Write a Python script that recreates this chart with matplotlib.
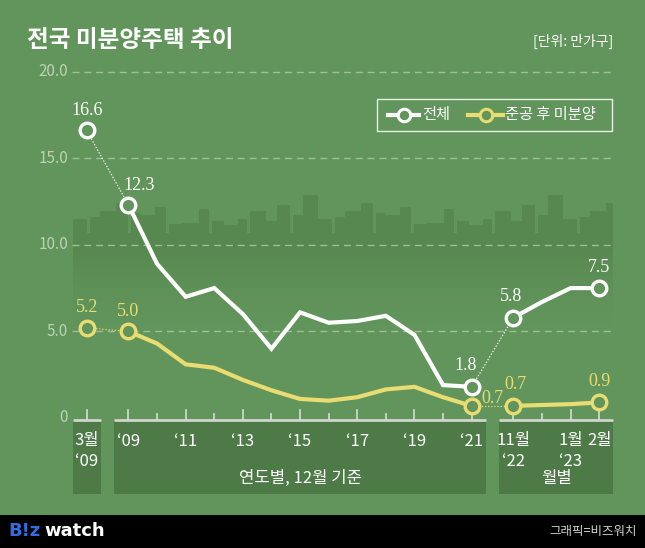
import matplotlib
matplotlib.use('Agg')
import matplotlib.pyplot as plt
import matplotlib.transforms as mtransforms
from matplotlib.patches import Rectangle
import numpy as np

plt.rcParams['font.family'] = ['Noto Sans CJK KR', 'DejaVu Sans']

# ---------------- data ----------------
first_labels = ['3월\n‘09']
total_first = [16.6]
completed_first = [5.2]

annual_labels = ['‘09', '', '‘11', '', '‘13', '', '‘15', '', '‘17', '', '‘19', '', '‘21']
total_annual = [12.3, 8.9, 7.0, 7.5, 6.0, 4.0, 6.1, 5.5, 5.6, 5.9, 4.8, 1.9, 1.8]
completed_annual = [5.0, 4.3, 3.1, 2.9, 2.2, 1.6, 1.1, 1.0, 1.2, 1.65, 1.8, 1.2, 0.7]

monthly_labels = ['11월\n‘22', '', '1월\n‘23', '2월']
total_monthly = [5.8, 6.7, 7.5, 7.5]
completed_monthly = [0.7, 0.75, 0.8, 0.9]

group_labels = ['', '연도별, 12월 기준', '월별']
yticks = [0, 5, 10, 15, 20]
ytick_labels = ['0', '5.0', '10.0', '15.0', '20.0']
series_names = ['전체', '준공 후 미분양']

# ---------------- style ----------------
BG = '#62955b'
BOX = '#4e7a48'
SKY = '#56884f'
WHITE = '#ffffff'
YELLOW = '#e8dc72'
GRID = '#9fc097'
TICKC = '#bcd3b4'
W, H = 645, 548

fig = plt.figure(figsize=(W / 100, H / 100), dpi=100, facecolor=BG)
ax = fig.add_axes([0, 0, 1, 1])
ax.set_facecolor(BG)
ax.axis('off')

# pixel mapping for the data axes
X0PX, UNIT = 86.7, 28.6
Y0PX, YUNIT = 418.0, 17.32
ax.set_xlim(-X0PX / UNIT, (W - X0PX) / UNIT)
ax.set_ylim(-(H - Y0PX) / YUNIT, Y0PX / YUNIT)

GAP = 1.46
pos_first = np.arange(len(total_first), dtype=float)
pos_annual = pos_first[-1] + GAP + np.arange(len(total_annual))
pos_monthly = pos_annual[-1] + GAP + np.arange(len(total_monthly))

# pixel transform (origin top-left)
pix = mtransforms.Affine2D().scale(1 / W, -1 / H).translate(0, 1) + fig.transFigure
xdata_ypix = mtransforms.blended_transform_factory(ax.transData, pix)
xpix_ydata = mtransforms.blended_transform_factory(pix, ax.transData)
xfig_ydata = mtransforms.blended_transform_factory(fig.transFigure, ax.transData)

# ---------------- skyline decoration ----------------
bw = [14, 10, 16, 12, 9, 15, 11, 13, 17, 10, 12, 14, 9, 16, 11, 13, 10, 15]
bh = [14, 22, 10, 30, 18, 8, 26, 16, 12, 24, 20, 38, 14, 9, 22, 28, 12, 18]
x = 73
i = 0
while x < 613:
    w = bw[i % len(bw)]
    h = bh[(i * 7) % len(bh)]
    w = min(w, 613 - x)
    ax.add_patch(Rectangle((x, 233 - h), w, h, transform=pix, color=SKY, lw=0, zorder=0.5))
    x += w + (3 if i % 3 == 0 else 0)
    i += 1
ax.add_patch(Rectangle((73, 233), 540, 13, transform=pix, color=SKY, lw=0, zorder=0.5))
n = 40
for k in range(n):
    y = 246 + k * 2
    ax.add_patch(Rectangle((73, y), 540, 2.2, transform=pix, color=SKY,
                           alpha=(1 - k / n) ** 1.5, lw=0, zorder=0.5))

# ---------------- grid & y tick labels ----------------
for v, lab in zip(yticks, ytick_labels):
    if v > 0:
        ax.plot([72 / W, 612 / W], [v, v], transform=xfig_ydata,
                color=GRID, lw=1, dashes=(5, 3.5), zorder=1)
    ax.text(68, v, lab, transform=xpix_ydata, ha='right', va='center',
            fontsize=11, color=TICKC, zorder=3)

# ---------------- category boxes & axis ----------------
groups = [(pos_first, first_labels), (pos_annual, annual_labels), (pos_monthly, monthly_labels)]
for gi, (pos, labs) in enumerate(groups):
    left, right = pos[0] - 0.49, pos[-1] + 0.49
    ax.add_patch(Rectangle((left, 421), right - left, 73, transform=xdata_ypix,
                           color=BOX, lw=0, zorder=1))
    ax.plot([left, right], [419.5, 419.5], transform=xdata_ypix, color='#cfd6cb', lw=2,
            solid_capstyle='butt', zorder=2)
    for p, lab in zip(pos, labs):
        tl = 9 if lab else 5
        ax.plot([p, p], [419, 419 - tl], transform=xdata_ypix, color='#d8ddd5', lw=1.2, zorder=2)
        if lab:
            parts = lab.split('\n')
            for r, t in enumerate(parts):
                ax.text(p, 441 + r * 21, t, transform=xdata_ypix, ha='center', va='center',
                        fontsize=12, fontweight='medium', color=WHITE, zorder=3)
    if group_labels[gi]:
        ax.text((pos[0] + pos[-1]) / 2, 478, group_labels[gi], transform=xdata_ypix,
                ha='center', va='center', fontsize=12, fontweight='medium', color=WHITE, zorder=3)

# ---------------- series ----------------
LW = 3.0
MS = 10.5
MEW = 2.4


def draw_series(vf, va, vm, color):
    ax.plot(pos_annual, va, color=color, lw=LW, solid_joinstyle='miter', zorder=4)
    ax.plot(pos_monthly, vm, color=color, lw=LW, solid_joinstyle='miter', zorder=4)
    ax.plot([pos_first[-1], pos_annual[0]], [vf[-1], va[0]], color=color, lw=0.9,
            ls=(0, (1, 1.5)), zorder=3)
    ax.plot([pos_annual[-1], pos_monthly[0]], [va[-1], vm[0]], color=color, lw=0.9,
            ls=(0, (1, 1.5)), zorder=3)
    mx = [pos_first[0], pos_annual[0], pos_annual[-1], pos_monthly[0], pos_monthly[-1]]
    my = [vf[0], va[0], va[-1], vm[0], vm[-1]]
    ax.plot(mx, my, ls='none', marker='o', ms=MS, mfc=BG, mec=color, mew=MEW, zorder=5)


draw_series(total_first, total_annual, total_monthly, WHITE)
draw_series(completed_first, completed_annual, completed_monthly, YELLOW)

SERIF = 'Liberation Serif'
off = mtransforms.offset_copy


def label(px, v, text, color, dx, dy, ha='center'):
    ax.text(px, v, text, color=color, fontsize=13, family=SERIF, ha=ha, va='center',
            transform=off(ax.transData, fig=fig, x=dx, y=dy, units='dots'), zorder=6)


label(pos_first[0], total_first[0], f'{total_first[0]:.1f}', WHITE, 0, 20)
label(pos_annual[0], total_annual[0], f'{total_annual[0]:.1f}', WHITE, 11, 19)
label(pos_annual[-1], total_annual[-1], f'{total_annual[-1]:.1f}', WHITE, -6, 21)
label(pos_monthly[0], total_monthly[0], f'{total_monthly[0]:.1f}', WHITE, -2, 21)
label(pos_monthly[-1], total_monthly[-1], f'{total_monthly[-1]:.1f}', WHITE, 0, 21)
label(pos_first[0], completed_first[0], f'{completed_first[0]:.1f}', YELLOW, 0, 20)
label(pos_annual[0], completed_annual[0], f'{completed_annual[0]:.1f}', YELLOW, 0, 20)
label(pos_annual[-1], completed_annual[-1], f'{completed_annual[-1]:.1f}', YELLOW, 10, 7, ha='left')
label(pos_monthly[0], completed_monthly[0], f'{completed_monthly[0]:.1f}', YELLOW, 2, 21)
label(pos_monthly[-1], completed_monthly[-1], f'{completed_monthly[-1]:.1f}', YELLOW, 0, 21)

# ---------------- legend ----------------
ax.add_patch(Rectangle((377, 98.5), 235, 32, transform=pix, fill=False, ec='#e8efe6', lw=1, zorder=6))
for (x1, x2, tx), name, color in zip([(388, 419, 422), (468, 503, 505)], series_names, [WHITE, YELLOW]):
    ax.plot([x1, x2], [115, 115], transform=pix, color=color, lw=3, zorder=6)
    ax.plot([(x1 + x2) / 2], [115], transform=pix, marker='o', ms=9, mfc=BG, mec=color, mew=2.2, zorder=7)
    ax.text(tx, 115, name, transform=pix, ha='left', va='center', fontsize=11,
            fontweight='medium', color=WHITE, zorder=7)

# ---------------- titles ----------------
ax.text(27, 40, '전국 미분양주택 추이', transform=pix, ha='left', va='center', fontsize=17,
        fontweight='bold', color=WHITE)
ax.text(613, 41, '[단위: 만가구]', transform=pix, ha='right', va='center', fontsize=10, color=WHITE)

# ---------------- footer ----------------
ax.add_patch(Rectangle((0, 515), W, H - 515, transform=pix, color='#000000', lw=0, zorder=8))
ax.text(8, 531, 'B!z', transform=pix, ha='left', va='center', fontsize=13, fontweight='bold',
        color='#2f6de0', family='DejaVu Sans', zorder=9)
ax.text(44, 531, 'watch', transform=pix, ha='left', va='center', fontsize=13, fontweight='bold',
        color=WHITE, family='DejaVu Sans', zorder=9)
ax.text(637, 531, '그래픽=비즈워치', transform=pix, ha='right', va='center', fontsize=9,
        color='#d0d0d0', zorder=9)

fig.savefig('out.png', dpi=100, facecolor=BG)
